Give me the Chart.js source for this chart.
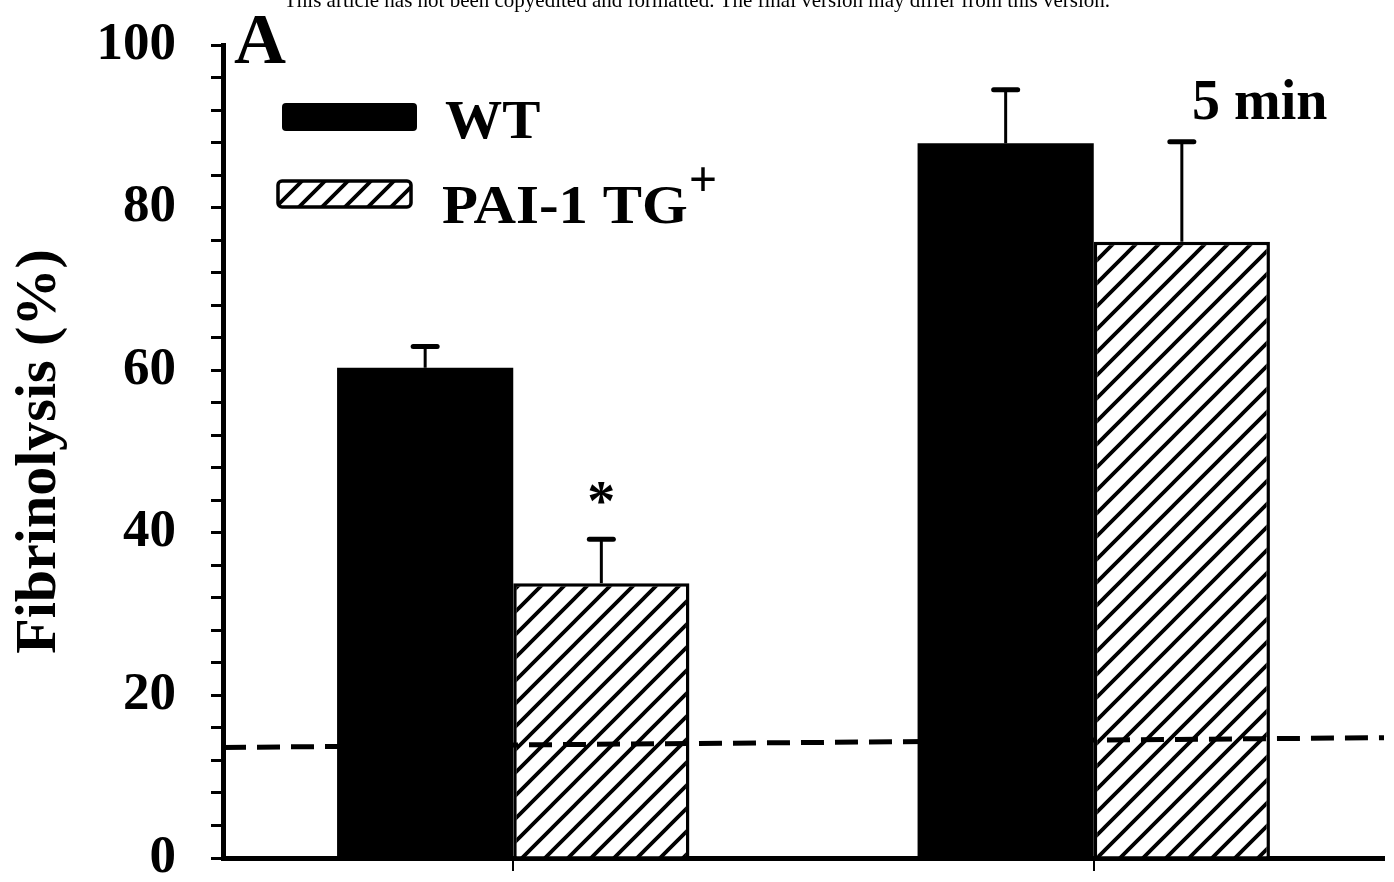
<!DOCTYPE html>
<html><head><meta charset="utf-8">
<script src="https://cdn.jsdelivr.net/npm/chart.js@4"></script>
<style>html,body{margin:0;padding:0;background:#fff;overflow:hidden}canvas{display:block}</style>
</head><body>
<canvas id="c" width="1394" height="882"></canvas>
<script>
// ---- data ----
const categories = ['Group 1', 'Group 2'];
const seriesNames = ['WT', 'PAI-1 TG'];
const wtValues = [60.3, 87.9];
const wtErrors = [2.6, 6.6];
const tgValues = [33.8, 75.8];
const tgErrors = [5.4, 12.3];
const tgMarks = ['*', ''];
const baselineEnds = [13.6, 14.8];   // dashed reference line, value at left and right edge
const yTitle = 'Fibrinolysis (%)';
const headerText = 'This article has not been copyedited and formatted. The final version may differ from this version.';
const panelLabel = 'A';
const timeLabel = '5 min';

const SERIF = "'Liberation Serif', 'Times New Roman', serif";

function makeHatch() {
  const s = 23, c = document.createElement('canvas');
  c.width = s; c.height = s;
  const g = c.getContext('2d');
  g.fillStyle = '#fff'; g.fillRect(0, 0, s, s);
  g.strokeStyle = '#000'; g.lineWidth = 3.8;
  g.beginPath();
  g.moveTo(-2, s + 2); g.lineTo(s + 2, -2);
  g.moveTo(-2, 2); g.lineTo(2, -2);
  g.moveTo(s - 2, s + 2); g.lineTo(s + 2, s - 2);
  g.stroke();
  return c;
}
const ctx0 = document.getElementById('c').getContext('2d');
const hatch = ctx0.createPattern(makeHatch(), 'repeat');

function stretchedText(ctx, text, x, y, sx) {
  ctx.save();
  ctx.translate(x, y);
  ctx.scale(sx, 1);
  ctx.fillText(text, 0, 0);
  ctx.restore();
  return ctx.measureText(text).width * sx;
}

const decor = {
  id: 'decor',
  afterDatasetsDraw(chart) {
    const ctx = chart.ctx, y = chart.scales.y, a = chart.chartArea;
    ctx.save();
    // dashed reference line from the baseline values
    ctx.strokeStyle = '#000'; ctx.lineWidth = 5; ctx.setLineDash([23, 11]);
    ctx.beginPath();
    ctx.moveTo(a.left, y.getPixelForValue(baselineEnds[0]));
    ctx.lineTo(a.right, y.getPixelForValue(baselineEnds[1]));
    ctx.stroke();
    ctx.setLineDash([]);
    const sets = [[0, wtValues, wtErrors], [1, tgValues, tgErrors]];
    sets.forEach(([di, vals, errs]) => {
      const meta = chart.getDatasetMeta(di);
      meta.data.forEach((bar, j) => {
        const top = y.getPixelForValue(vals[j] + errs[j]);
        ctx.lineWidth = 3; ctx.lineCap = 'butt';
        ctx.beginPath(); ctx.moveTo(bar.x, bar.y); ctx.lineTo(bar.x, top); ctx.stroke();
        ctx.lineWidth = 5; ctx.lineCap = 'round';
        ctx.beginPath(); ctx.moveTo(bar.x - 12, top); ctx.lineTo(bar.x + 12, top); ctx.stroke();
        if (di === 1 && tgMarks[j]) {
          ctx.fillStyle = '#000';
          ctx.font = 'bold 56px ' + SERIF;
          ctx.textAlign = 'center'; ctx.textBaseline = 'alphabetic';
          ctx.fillText(tgMarks[j], bar.x, top - 19);
        }
      });
    });
    ctx.restore();
  },
  afterDraw(chart) {
    const ctx = chart.ctx, a = chart.chartArea;
    ctx.save();
    ctx.fillStyle = '#000';
    ctx.textBaseline = 'alphabetic';
    // header
    ctx.font = '21px ' + SERIF; ctx.textAlign = 'center';
    ctx.fillText(headerText, 697, 7);
    // panel label
    ctx.font = 'bold 72px ' + SERIF; ctx.textAlign = 'left';
    ctx.fillText(panelLabel, a.left + 11, 63);
    // time label
    ctx.font = 'bold 56px ' + SERIF;
    ctx.fillText(timeLabel, 1192, 119);
    // legend
    ctx.beginPath(); ctx.roundRect(282, 103, 135, 28, 4); ctx.fill();
    ctx.beginPath(); ctx.roundRect(278, 181, 133, 26, 4);
    ctx.fillStyle = hatch; ctx.fill();
    ctx.lineWidth = 3.5; ctx.strokeStyle = '#000'; ctx.stroke();
    ctx.fillStyle = '#000';
    ctx.font = 'bold 55px ' + SERIF;
    stretchedText(ctx, seriesNames[0], 445, 138, 1.04);
    ctx.font = 'bold 54px ' + SERIF;
    const w = stretchedText(ctx, seriesNames[1], 442, 223, 1.09);
    ctx.font = 'bold 50px ' + SERIF;
    ctx.fillText('+', 442 + w + 1, 196);
    ctx.restore();
  }
};

new Chart(ctx0, {
  type: 'bar',
  data: {
    labels: categories,
    datasets: [
      { label: seriesNames[0], data: wtValues, backgroundColor: '#000', borderColor: '#000', borderWidth: 0 },
      { label: seriesNames[1], data: tgValues, backgroundColor: hatch, borderColor: '#000', borderWidth: 3.5 }
    ]
  },
  options: {
    responsive: false,
    animation: false,
    devicePixelRatio: 1,
    categoryPercentage: 0.607,
    barPercentage: 1.0,
    layout: { padding: { top: 45, right: 10, left: 0, bottom: 0 } },
    plugins: { legend: { display: false }, tooltip: { enabled: false }, title: { display: false } },
    scales: {
      x: {
        type: 'category', offset: true,
        grid: { offset: false, drawOnChartArea: false, drawTicks: true, tickLength: 13, color: '#000', lineWidth: 2 },
        border: { display: true, color: '#000', width: 5 },
        ticks: { display: false },
        afterFit(s) { s.height = 24; s.paddingLeft = 0; s.paddingRight = 0; }
      },
      y: {
        min: 0, max: 100,
        ticks: { stepSize: 4, autoSkip: false, padding: 35, color: '#000',
          font: { family: SERIF, size: 53, weight: 'bold' },
          callback: v => (v % 20 === 0 ? String(v) : '') },
        grid: { drawOnChartArea: false, tickLength: 12, color: '#000', lineWidth: 3 },
        border: { display: true, color: '#000', width: 5 },
        title: { display: true, text: yTitle, color: '#000', padding: { top: 5, bottom: 0 },
          font: { family: SERIF, size: 58, weight: 'bold' } },
        afterFit(s) { s.width = 223; s.paddingTop = 0; s.paddingBottom = 0; }
      }
    }
  },
  plugins: [decor]
});
</script>
</body></html>
